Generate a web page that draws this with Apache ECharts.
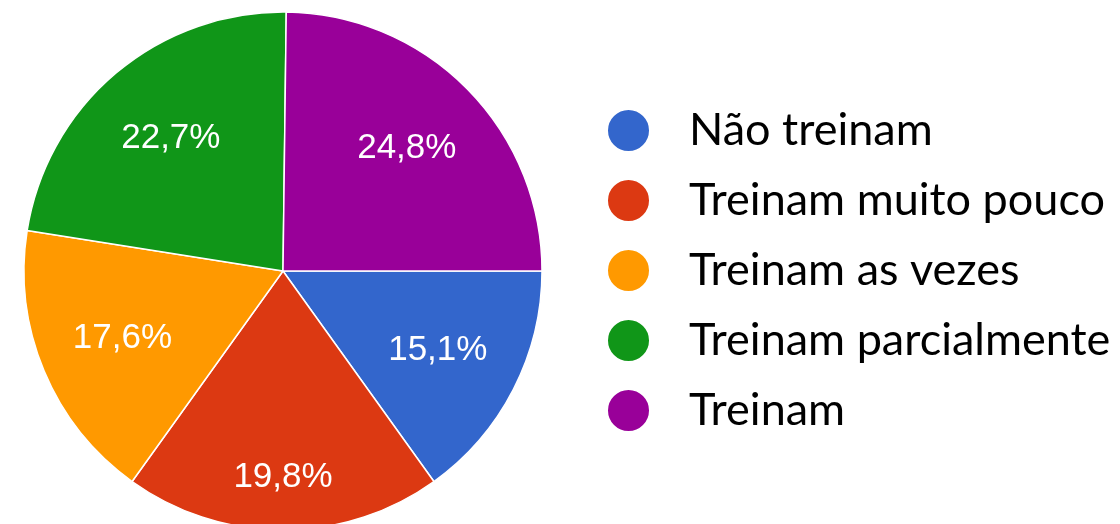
<!DOCTYPE html>
<html><head><meta charset="utf-8">
<script src="https://cdn.jsdelivr.net/npm/echarts@6/dist/echarts.min.js"></script>
<style>html,body{margin:0;padding:0;background:#fff}#c{width:1120px;height:524px}</style>
</head><body><div id="c"></div>
<script>
const categories = ["Não treinam", "Treinam muito pouco", "Treinam as vezes", "Treinam parcialmente", "Treinam"];
const values = [15.1, 19.8, 17.6, 22.7, 24.8];
const colors = ["#3366CC", "#DC3912", "#FF9900", "#109618", "#990099"];

const chart = echarts.init(document.getElementById('c'));
const fmt = v => v.toFixed(1).replace('.', ',') + '%';
const baseData = categories.map((n, i) => ({ name: n, value: values[i], itemStyle: { color: colors[i] } }));
const labelData = categories.map((n, i) => {
  const d = { name: n, value: values[i] };
  if (i === 1) d.label = { offset: [0, 32] };
  return d;
});
chart.setOption({
  animation: false,
  color: colors,
  legend: {
    orient: 'vertical', left: 601, top: 103,
    icon: 'circle', itemWidth: 43, itemHeight: 43, itemGap: 25,
    data: categories,
    textStyle: { fontFamily: 'Lato', fontSize: 45, color: '#000', padding: [0, 0, 0, 34] }
  },
  series: [
    {
      type: 'pie', center: [283, 271], radius: 259, startAngle: 0, clockwise: true,
      data: baseData, label: { show: false }, labelLine: { show: false },
      itemStyle: { borderColor: '#fff', borderWidth: 1.5 }, silent: true
    },
    {
      type: 'pie', center: [283, 271], radius: [83, 259], startAngle: 0, clockwise: true,
      data: labelData, legendHoverLink: false, silent: true,
      itemStyle: { color: 'rgba(0,0,0,0)' },
      label: { show: true, position: 'inside', formatter: p => fmt(p.value),
        color: '#fff', fontFamily: 'Liberation Sans', fontSize: 35 },
      labelLine: { show: false }
    }
  ]
});
</script></body></html>
